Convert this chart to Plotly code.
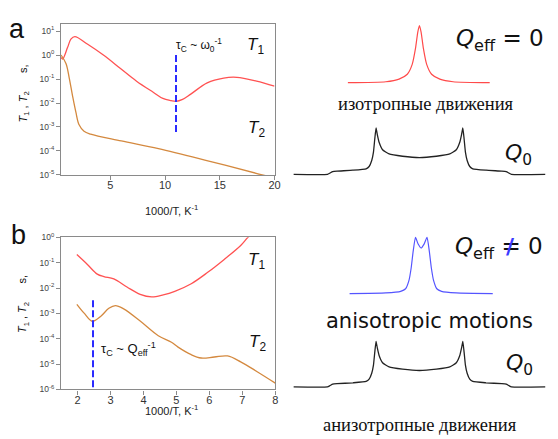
import numpy as np
import plotly.graph_objects as go

W, H = 558, 439

# ---------------- data: panel a (relaxation times, log10 seconds) ----------------
a_T1_x = [0.5, 0.64, 1.1, 1.4, 1.76, 2.9, 4.4, 5.9, 7.4, 8.95, 9.8, 10.55, 11.0, 11.6, 12.35, 13.85, 15.36, 16.56, 18.36, 20.0]
a_T1_log = [-0.10, -0.17, 0.32, 0.66, 0.77, 0.46, -0.01, -0.55, -1.09, -1.56, -1.81, -1.90, -1.93, -1.85, -1.63, -1.16, -0.96, -0.93, -1.09, -1.30]
a_T2_x = [0.5, 0.95, 1.25, 1.55, 1.85, 2.15, 2.6, 3.2, 6.0, 9.4, 14.0, 18.4, 20.0]
a_T2_log = [0.0, -0.35, -0.96, -1.70, -2.37, -2.91, -3.18, -3.30, -3.58, -3.90, -4.42, -4.94, -5.12]
a_tau_x = [11.0, 11.0]
a_tau_log = [0.0, -3.25]

# ---------------- data: panel b ----------------
b_T1_x = [1.98, 2.3, 2.6, 2.8, 3.1, 3.5, 3.9, 4.25, 4.6, 4.95, 5.45, 5.95, 6.45, 6.95, 7.17, 7.4]
b_T1_log = [-0.68, -1.07, -1.45, -1.55, -1.64, -1.96, -2.25, -2.35, -2.27, -2.13, -1.83, -1.38, -0.87, -0.32, 0.0, 0.25]
b_T2_x = [1.98, 2.2, 2.45, 2.7, 2.95, 3.15, 3.4, 3.9, 4.45, 4.85, 5.05, 5.45, 5.75, 6.15, 6.55, 6.95, 7.45, 8.0]
b_T2_log = [-2.64, -2.99, -3.31, -3.12, -2.80, -2.69, -2.82, -3.30, -3.88, -4.14, -4.33, -4.63, -4.76, -4.72, -4.68, -4.91, -5.30, -5.75]
b_tau_x = [2.47, 2.47]
b_tau_log = [-2.48, -6.0]

# ---------------- data: spectra (frequency, normalised intensity) ----------------
iso_f = [-1.65, -0.775, -0.47, -0.28, -0.167, -0.091, -0.038, 0.0, 0.038, 0.091, 0.167, 0.28, 0.47, 0.775, 1.62]
iso_I = [0.0, 0.017, 0.063, 0.148, 0.32, 0.60, 0.886, 1.0, 0.886, 0.60, 0.32, 0.148, 0.063, 0.017, 0.0]

aniso_f = [-1.61, -0.775, -0.433, -0.319, -0.243, -0.19, -0.145, -0.091, -0.03, 0.038, 0.107, 0.175, 0.228, 0.274, 0.327, 0.40, 0.51, 0.85, 1.69]
aniso_I = [0.0, 0.012, 0.04, 0.087, 0.23, 0.46, 0.75, 1.0, 0.88, 0.81, 0.88, 1.0, 0.75, 0.46, 0.23, 0.087, 0.04, 0.012, 0.0]

q0_f = [-2.90, -2.12, -2.06, -2.00, -1.90, -1.535, -1.23, -1.16, -1.10, -1.06, -1.03, -1.00, -0.97, -0.93,
        -0.85, -0.70, -0.39, 0.0, 0.39, 0.70, 0.85, 0.93, 0.97, 1.00, 1.03, 1.06, 1.10, 1.16, 1.23, 1.535,
        1.90, 2.00, 2.06, 2.12, 2.90]
q0_I = [0.0, 0.0, 0.03, 0.06, 0.07, 0.09, 0.12, 0.17, 0.30, 0.48, 0.76, 1.0, 0.85, 0.69,
        0.53, 0.44, 0.39, 0.36, 0.39, 0.44, 0.53, 0.69, 0.85, 1.0, 0.76, 0.48, 0.30, 0.17, 0.12, 0.09,
        0.07, 0.06, 0.03, 0.0, 0.0]

y_tickvals_a = [1e-5, 1e-4, 1e-3, 1e-2, 1e-1, 1e0, 1e1]
y_tickvals_b = [1e-6, 1e-5, 1e-4, 1e-3, 1e-2, 1e-1, 1e0]
x_tickvals_a = [5, 10, 15, 20]
x_tickvals_b = [2, 3, 4, 5, 6, 7, 8]


def sup_label(v):
    return "10<sup>%d</sup>" % int(round(np.log10(v)))


def px(x, y):
    return x / W, 1 - y / H


def ydom(top, bottom):
    return [1 - bottom / H, 1 - top / H]


RED = "#ff5252"
ORANGE = "#d4893f"
BLUE = "#2b2bff"
FONT = "Liberation Sans, Arial, sans-serif"

fig = go.Figure()

# panel a
fig.add_trace(go.Scatter(x=a_T1_x, y=np.power(10.0, a_T1_log), mode="lines",
                         line=dict(color=RED, width=1.3, shape="spline", smoothing=1.0),
                         xaxis="x", yaxis="y", showlegend=False, hoverinfo="skip"))
fig.add_trace(go.Scatter(x=a_T2_x, y=np.power(10.0, a_T2_log), mode="lines",
                         line=dict(color=ORANGE, width=1.3, shape="spline", smoothing=1.0),
                         xaxis="x", yaxis="y", showlegend=False, hoverinfo="skip"))
fig.add_trace(go.Scatter(x=a_tau_x, y=np.power(10.0, a_tau_log), mode="lines",
                         line=dict(color=BLUE, width=2, dash="7px,3px"),
                         xaxis="x", yaxis="y", showlegend=False, hoverinfo="skip"))
# panel b
fig.add_trace(go.Scatter(x=b_T1_x, y=np.power(10.0, b_T1_log), mode="lines",
                         line=dict(color=RED, width=1.3, shape="spline", smoothing=1.0),
                         xaxis="x2", yaxis="y2", showlegend=False, hoverinfo="skip"))
fig.add_trace(go.Scatter(x=b_T2_x, y=np.power(10.0, b_T2_log), mode="lines",
                         line=dict(color=ORANGE, width=1.3, shape="spline", smoothing=1.0),
                         xaxis="x2", yaxis="y2", showlegend=False, hoverinfo="skip"))
fig.add_trace(go.Scatter(x=b_tau_x, y=np.power(10.0, b_tau_log), mode="lines",
                         line=dict(color=BLUE, width=2, dash="7px,3px"),
                         xaxis="x2", yaxis="y2", showlegend=False, hoverinfo="skip"))

# spectra
fig.add_trace(go.Scatter(x=iso_f, y=iso_I, mode="lines",
                         line=dict(color="#ff4a4a", width=1.2, shape="spline", smoothing=0.6),
                         xaxis="x3", yaxis="y3", showlegend=False, hoverinfo="skip"))
fig.add_trace(go.Scatter(x=q0_f, y=q0_I, mode="lines",
                         line=dict(color="#222222", width=1.3, shape="spline", smoothing=0.4),
                         xaxis="x4", yaxis="y4", showlegend=False, hoverinfo="skip"))
fig.add_trace(go.Scatter(x=aniso_f, y=aniso_I, mode="lines",
                         line=dict(color="#5555ff", width=1.2, shape="spline", smoothing=0.5),
                         xaxis="x5", yaxis="y5", showlegend=False, hoverinfo="skip"))
fig.add_trace(go.Scatter(x=q0_f, y=q0_I, mode="lines",
                         line=dict(color="#222222", width=1.3, shape="spline", smoothing=0.4),
                         xaxis="x6", yaxis="y6", showlegend=False, hoverinfo="skip"))

axis_common = dict(showline=True, linecolor="#8a8a8a", linewidth=1.2, mirror=True,
                   ticks="outside", ticklen=4, tickcolor="#8a8a8a", showgrid=False, zeroline=False)

spec_x = dict(domain=[290 / W, 1.0], range=[-3.056, 3.056], visible=False)

fig.update_layout(
    width=W, height=H, margin=dict(l=0, r=0, t=0, b=0),
    paper_bgcolor="white", plot_bgcolor="rgba(0,0,0,0)",
    font=dict(family=FONT, color="#333333"),
    xaxis=dict(domain=[61.7 / W, 277.5 / W], range=[0.5, 20], tickvals=x_tickvals_a,
               tickfont=dict(size=11, color="#333"), anchor="y", ticklabelstandoff=-4, **axis_common),
    yaxis=dict(domain=ydom(18.3, 173.3), type="log", range=[-5, 1.3], tickvals=y_tickvals_a,
               ticktext=[sup_label(v) for v in y_tickvals_a], tickfont=dict(size=8.5, color="#444"),
               anchor="x", **axis_common),
    xaxis2=dict(domain=[61.7 / W, 278.3 / W], range=[1.5, 8], tickvals=x_tickvals_b,
                tickfont=dict(size=11, color="#333"), anchor="y2", ticklabelstandoff=-4, **axis_common),
    yaxis2=dict(domain=ydom(237.3, 393.3), type="log", range=[-6, 0], tickvals=y_tickvals_b,
                ticktext=[sup_label(v) for v in y_tickvals_b], tickfont=dict(size=8.5, color="#444"),
                anchor="x2", **axis_common),
    xaxis3=dict(anchor="y3", **spec_x),
    xaxis4=dict(anchor="y4", **spec_x),
    xaxis5=dict(anchor="y5", **spec_x),
    xaxis6=dict(anchor="y6", **spec_x),
    yaxis3=dict(anchor="x3", domain=ydom(11.2, 87.5), range=[-0.15, 1.15], visible=False),
    yaxis4=dict(anchor="x4", domain=ydom(117.8, 179.9), range=[-0.15, 1.15], visible=False),
    yaxis5=dict(anchor="x5", domain=ydom(228.6, 303.7), range=[-0.15, 1.15], visible=False),
    yaxis6=dict(anchor="x6", domain=ydom(337.0, 397.7), range=[-0.15, 1.15], visible=False),
)

ann = []


def add_text(x, y, text, size, color="#111", family=FONT, xanchor="center", angle=0):
    xx, yy = px(x, y)
    ann.append(dict(x=xx, y=yy, xref="paper", yref="paper", text=text, showarrow=False,
                    xanchor=xanchor, yanchor="middle", textangle=angle,
                    font=dict(size=size, color=color, family=family)))


# panel letters
add_text(17, 24, "a", 27)
add_text(19, 235, "b", 27)
# y axis titles
add_text(24, 90, "<i>T</i><sub>1</sub> , <i>T</i><sub>2</sub>      s,", 11, angle=-90)
add_text(24, 306, "<i>T</i><sub>1</sub> , <i>T</i><sub>2</sub>      s,", 11, angle=-90)
# x axis titles
add_text(173, 209, "1000/T, K<sup>-1</sup>", 11, color="#222")
add_text(173, 414, "1000/T, K<sup>-1</sup>", 11, color="#222")
# in-plot labels
add_text(176, 40, "τ<sub>C</sub> ~ ω<sub>0</sub><sup>-1</sup>", 12, xanchor="left")
add_text(258, 41, "<i>T</i><sub>1</sub>", 17)
add_text(259, 126, "<i>T</i><sub>2</sub>", 17)
add_text(100, 352, "τ<sub>C</sub> ~ Q<sub>eff</sub><sup>-1</sup>", 13, xanchor="left")
add_text(259, 262, "<i>T</i><sub>1</sub>", 17)
add_text(260, 346, "<i>T</i><sub>2</sub>", 17)
# right side
SANS = "DejaVu Sans, sans-serif"
SERIF = "Liberation Serif, serif"
add_text(505, 35, "<i>Q</i><sub>eff</sub> = 0", 23, family=SANS)
add_text(524, 152, "<i>Q</i><sub>0</sub>", 22, family=SANS)
add_text(431, 101, "изотропные движения", 18.5, family=SERIF)
add_text(504, 248, "<i>Q</i><sub>eff</sub> = 0", 23, family=SANS)
add_text(516, 247, "<b>/</b>", 22, color="#3a3aff", family=SANS)
add_text(434, 323, "anisotropic motions", 21, family=SANS)
add_text(525, 368, "<i>Q</i><sub>0</sub>", 22, family=SANS)
add_text(425, 430, "анизотропные движения", 18.5, family=SERIF)

fig.update_layout(annotations=ann)
fig.write_html("out.html", config={"displayModeBar": False},
               post_script="document.body.style.margin='0px';document.body.style.padding='0px';")
